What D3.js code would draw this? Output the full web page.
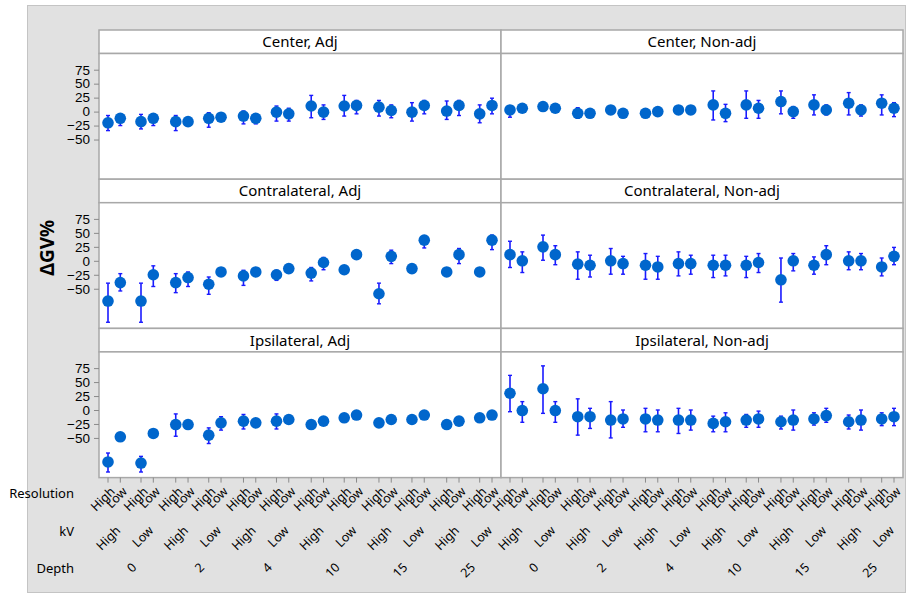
<!DOCTYPE html>
<html>
<head>
<meta charset="utf-8">
<style>
  body { margin: 0; background: #fff; font-family: "Noto Sans", sans-serif; }
  .strip text { font-size: 15px; fill: #000; }
  .yaxis text { font-size: 13.5px; fill: #000; }
  .xlab text { font-size: 12.5px; fill: #000; }
  .rowname { font-size: 13px; fill: #000; }
</style>
</head>
<body>
<script src="https://cdn.jsdelivr.net/npm/d3@7"></script>
<script>
var depths = ["0", "2", "4", "10", "15", "25"];
var kvLevels = ["High", "Low"];
var resLevels = ["High", "Low"];
var rowNames = ["Center", "Contralateral", "Ipsilateral"];
var colNames = ["Adj", "Non-adj"];
var yTicks = [-50, -25, 0, 25, 50, 75];

// [mean, lower, upper], order: Depth > kV > Resolution
var centerAdj = [
  [-20, -34, -7], [-12, -25, -5], [-18, -31, -5], [-12, -25, -5],
  [-18, -34, -7], [-18, -23, -14], [-12, -28, -2], [-10, -14, -6],
  [-8, -22, 1], [-12, -22, -4], [-1, -17, 10], [-4, -17, 6],
  [10, -11, 29], [-1, -14, 12], [10, -8, 29], [11, -4, 20],
  [8, -8, 20], [2, -11, 12], [-1, -17, 16], [11, -4, 20],
  [1, -14, 19], [11, -7, 20], [-4, -20, 12], [11, -4, 24]
];
var centerNonAdj = [
  [3, -10, 7], [6, 2, 10], [9, 5, 13], [6, 2, 10],
  [-3, -12, 7], [-3, -7, 1], [3, -1, 7], [-3, -7, 1],
  [-3, -7, 1], [0, -4, 4], [3, -1, 7], [3, -1, 7],
  [12, -15, 37], [-3, -18, 13], [12, -12, 37], [6, -12, 20],
  [18, -4, 37], [0, -12, 9], [12, -6, 30], [3, -6, 12],
  [15, -6, 34], [3, -8, 12], [15, -6, 30], [6, -9, 16]
];
var contraAdj = [
  [-72, -110, -40], [-39, -54, -23], [-72, -110, -40], [-25, -46, -9],
  [-39, -57, -23], [-30, -46, -20], [-42, -60, -29], [-20, -24, -16],
  [-27, -44, -17], [-20, -24, -16], [-25, -35, -17], [-14, -18, -10],
  [-22, -36, -12], [-3, -16, 6], [-16, -20, -12], [11, 7, 15],
  [-59, -77, -40], [8, -5, 19], [-14, -18, -10], [37, 23, 45],
  [-20, -25, -15], [11, -5, 22], [-20, -24, -16], [37, 20, 46]
];
var contraNonAdj = [
  [11, -12, 35], [0, -21, 16], [25, 1, 46], [11, -7, 27],
  [-6, -33, 16], [-8, -29, 10], [0, -24, 22], [-5, -24, 8],
  [-8, -33, 13], [-11, -33, 8], [-5, -27, 16], [-5, -24, 10],
  [-8, -30, 10], [-8, -27, 10], [-8, -30, 8], [-3, -21, 13],
  [-34, -74, 5], [0, -18, 13], [-8, -24, 7], [11, -7, 27],
  [0, -16, 16], [0, -16, 13], [-11, -27, 5], [8, -7, 24]
];
var ipsiAdj = [
  [-93, -111, -77], [-48, -53, -43], [-95, -111, -83], [-42, -47, -37],
  [-26, -47, -7], [-26, -30, -22], [-45, -60, -32], [-23, -36, -12],
  [-20, -34, -8], [-23, -27, -19], [-20, -34, -7], [-17, -21, -13],
  [-26, -30, -22], [-20, -24, -16], [-14, -18, -10], [-9, -13, -5],
  [-23, -27, -19], [-17, -21, -13], [-17, -21, -13], [-9, -13, -5],
  [-26, -30, -22], [-20, -24, -16], [-14, -18, -10], [-9, -13, -5]
];
var ipsiNonAdj = [
  [30, -3, 62], [-1, -22, 15], [38, -6, 79], [-1, -22, 15],
  [-12, -45, 20], [-12, -33, 3], [-18, -50, 15], [-16, -31, 0],
  [-16, -39, 3], [-18, -39, 0], [-18, -42, 3], [-18, -36, 0],
  [-24, -39, -11], [-21, -39, -5], [-18, -31, -8], [-16, -31, -2],
  [-21, -34, -11], [-18, -36, 0], [-16, -27, -5], [-10, -22, 3],
  [-21, -34, -9], [-18, -36, 0], [-16, -28, -5], [-12, -28, 3]
];

var panelData = {
  "Center|Adj": centerAdj, "Center|Non-adj": centerNonAdj,
  "Contralateral|Adj": contraAdj, "Contralateral|Non-adj": contraNonAdj,
  "Ipsilateral|Adj": ipsiAdj, "Ipsilateral|Non-adj": ipsiNonAdj
};

var W = 908, H = 597;
var left = 99, top0 = 30, panelW = 402, rowH = 149.2, stripH = 23.5;
var plotH = rowH - stripH;
var bottom = top0 + rowH * 3;

var svg = d3.select("body").append("svg")
    .attr("width", W)
    .attr("height", H);

// grey graph region
svg.append("rect")
    .attr("x", 27.5).attr("y", 5.5)
    .attr("width", 878).attr("height", 587)
    .attr("fill", "#e1e1e1")
    .attr("stroke", "#c4c4c4");

var y = d3.scaleLinear().domain([-121, 104]).range([plotH, 0]);

var xDepth = d3.scalePoint().domain(depths).range([9, panelW - 9 - 45.3]);
var xKv = d3.scalePoint().domain(kvLevels).range([0, 33]);
var xRes = d3.scalePoint().domain(resLevels).range([0, 12.3]);

// flat list of the 24 cells in one panel
var cells = [];
depths.forEach(function(d) {
  kvLevels.forEach(function(k) {
    resLevels.forEach(function(r) {
      cells.push({ depth: d, kv: k, res: r, x: xDepth(d) + xKv(k) + xRes(r) });
    });
  });
});

rowNames.forEach(function(rn, ri) {
  colNames.forEach(function(cn, ci) {
    var gx = left + ci * panelW,
        gy = top0 + ri * rowH;
    var g = svg.append("g").attr("transform", "translate(" + gx + "," + gy + ")");

    // strip
    var strip = g.append("g").attr("class", "strip");
    strip.append("rect")
        .attr("width", panelW).attr("height", stripH)
        .attr("fill", "#fff").attr("stroke", "#a8a8a8").attr("stroke-width", 1.5);
    strip.append("text")
        .attr("x", panelW / 2).attr("y", stripH / 2 + 5.5)
        .attr("text-anchor", "middle")
        .text(rn + ", " + cn);

    var p = g.append("g").attr("transform", "translate(0," + stripH + ")");
    p.append("rect")
        .attr("width", panelW).attr("height", plotH)
        .attr("fill", "#fff").attr("stroke", "#a8a8a8").attr("stroke-width", 1.5);

    var vals = panelData[rn + "|" + cn];
    var pts = p.selectAll("g.pt")
      .data(cells.map(function(c, i) { return { x: c.x, v: vals[i] }; }))
      .enter().append("g").attr("class", "pt");

    pts.append("line")
        .attr("x1", function(d) { return d.x; })
        .attr("x2", function(d) { return d.x; })
        .attr("y1", function(d) { return y(d.v[1]); })
        .attr("y2", function(d) { return y(d.v[2]); })
        .attr("stroke", "#1a1aff").attr("stroke-width", 1.6);
    [1, 2].forEach(function(j) {
      pts.append("line")
          .attr("x1", function(d) { return d.x - 2; })
          .attr("x2", function(d) { return d.x + 2; })
          .attr("y1", function(d) { return y(d.v[j]); })
          .attr("y2", function(d) { return y(d.v[j]); })
          .attr("stroke", "#1a1aff").attr("stroke-width", 1.4);
    });
    pts.append("circle")
        .attr("cx", function(d) { return d.x; })
        .attr("cy", function(d) { return y(d.v[0]); })
        .attr("r", 5.8)
        .attr("fill", "#0066cc");

    if (ci === 0) {
      var ya = p.append("g").attr("class", "yaxis")
          .call(d3.axisLeft(y).tickValues(yTicks).tickSize(5).tickPadding(4));
      ya.select(".domain").remove();
      ya.selectAll(".tick line").attr("stroke", "#8a8a8a");
    }

    if (ri === rowNames.length - 1) {
      var xa = g.append("g").attr("transform", "translate(0," + (rowH) + ")");
      xa.selectAll("line").data(cells).enter().append("line")
          .attr("x1", function(d) { return d.x; })
          .attr("x2", function(d) { return d.x; })
          .attr("y1", 0).attr("y2", 5)
          .attr("stroke", "#8a8a8a");

      var lab = xa.append("g").attr("class", "xlab");
      lab.selectAll("text.res").data(cells).enter().append("text")
          .attr("class", "res")
          .attr("text-anchor", "end")
          .attr("transform", function(d) { return "translate(" + (d.x + 1) + ",8) rotate(-45)"; })
          .attr("dy", "0.75em")
          .text(function(d) { return d.res; });

      var kvCells = cells.filter(function(c) { return c.res === "High"; });
      lab.selectAll("text.kv").data(kvCells).enter().append("text")
          .attr("class", "kv")
          .attr("text-anchor", "end")
          .attr("transform", function(d) { return "translate(" + (d.x + xRes.range()[1] / 2 + 0.5) + ",47) rotate(-45)"; })
          .attr("dy", "0.75em")
          .text(function(d) { return d.kv; });

      lab.selectAll("text.dep").data(depths).enter().append("text")
          .attr("class", "dep")
          .attr("text-anchor", "end")
          .attr("transform", function(d) {
            return "translate(" + (xDepth(d) + (xKv.range()[1] + xRes.range()[1]) / 2 + 0) + ",84) rotate(-45)";
          })
          .attr("dy", "0.75em")
          .text(function(d) { return d; });
    }
  });
});

// row names of the x label rows
[["Resolution", 498], ["kV", 536], ["Depth", 573]].forEach(function(r) {
  svg.append("text").attr("class", "rowname")
      .attr("x", 74).attr("y", r[1])
      .attr("text-anchor", "end")
      .text(r[0]);
});

svg.append("text")
    .attr("transform", "translate(54," + ((top0 + bottom) / 2 - 6) + ") rotate(-90)")
    .attr("text-anchor", "middle")
    .attr("font-size", 19)
    .attr("font-weight", "bold")
    .text("ΔGV%");
</script>
</body>
</html>
